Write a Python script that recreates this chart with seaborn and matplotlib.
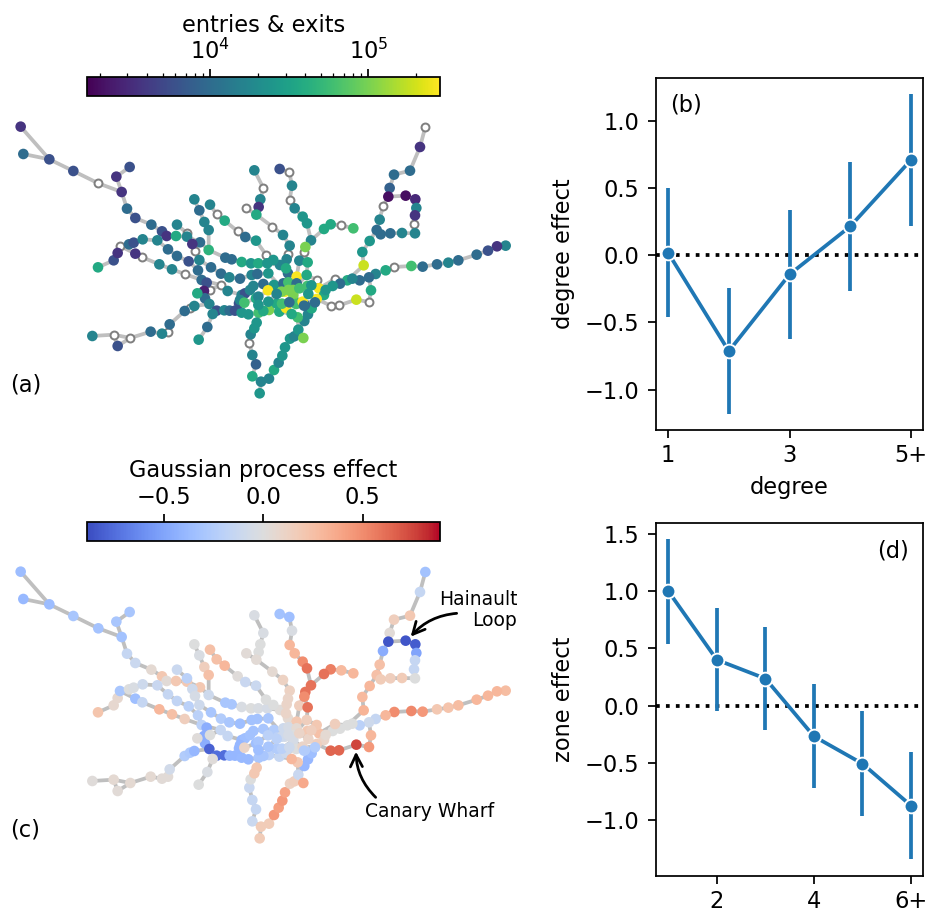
import numpy as np
import pandas as pd
import matplotlib
matplotlib.use("Agg")
import matplotlib.pyplot as plt
from matplotlib.colors import LogNorm, Normalize
import seaborn as sns

N = np.nan

# station map coordinates, one row per branch of the network
branch_x = [
    [62, 148],
    [70, 148, 220, 295, 365, 381, 406, 454, 486, 500, 528, 561, 600, 626, 676, 695, 725, 753, 775, 802, 840, 864, 890],
    [389, 349, 365],
    [583, 598, 613, 626, 626],
    [531, 561, 577, 585, 598, 633, 663, 688, 720, 755, 772, 805, 855],
    [630, 650, 674, 713, 736, 768, 798, 802],
    [294, 341, 353, 360, 387, 401, 428, 472, 504, 531, 566, 594, 605, 620, 612, 615, 628, 650],
    [360, 406, 427, 478, 516, 554, 605, 662, 683, 725],
    [277, 341, 391, 452, 486, 504, 509, 554, 570, 583, 628],
    [341, 353, 391],
    [596, 622, 638, 650, 673, 689, 705, 725, 745, 776, 807, 838, 858, 890],
    [592, 630, 662],
    [717, 725, 735, 750, 760, 790, 822, 850, 865, 890],
    [720, 733, 768, 775, 804, 832, 855, 880, 922, 957, 972],
    [757, 768, 757, 748, 752, 763, 770, 776],
    [757, 783, 779],
    [783, 807, 822, 836, 847, 855, 870, 883, 895, 913, 924, 935, 915, 880],
    [910, 883],
    [895, 893, 875, 838],
    [839, 868, 876, 869, 884, 908, 921, 933, 916, 898, 890, 880],
    [1060, 1024, 992, 972, 933],
    [916, 913, 923, 920, 880],
    [763, 790, 781, 776, 769, 817, 849, 869, 864, 860, 858, 864, 880],
    [739, 769],
    [1276, 1260, 1230, 1182, 1169, 1165, 1149, 1139, 1130, 1109, 1087, 1091, 1042, 1020, 998, 977, 957],
    [1165, 1217, 1246, 1249, 1245, 1242, 1245, 1206, 1171, 1142, 1130],
    [1517, 1491, 1464, 1430, 1375, 1345, 1311, 1268, 1234, 1183, 1157, 1127, 1107, 1079, 1057, 1042],
    [1107, 1113, 1107, 1069, 1017, 992, 950, 915],
    [1042, 1005, 957],
    [950, 920],
    [820, 840],
    [790, 830, 846, 880, 888, 908, 945, 972],
    [845, 865, 880, 898, 925, 934],
    [775, 805, 830],
    [868, 912],
]
branch_y = [
    [80, 178],
    [162, 178, 213, 250, 276, 326, 354, 374, 394, 408, 408, 410, 427, 450, 473, 478, 486, 490, 490, 490, 495, 520, 530],
    [201, 230, 276],
    [298, 331, 366, 390, 450],
    [374, 400, 432, 453, 480, 502, 521, 532, 536, 525, 522, 520, 575],
    [314, 343, 362, 394, 411, 422, 464, 490],
    [502, 481, 459, 438, 433, 428, 418, 421, 448, 468, 484, 511, 540, 548, 573, 595, 612, 632],
    [438, 461, 472, 493, 508, 522, 540, 555, 573, 585],
    [708, 704, 714, 695, 701, 695, 673, 633, 623, 618, 612],
    [704, 738, 714],
    [719, 681, 642, 632, 631, 632, 632, 638, 643, 638, 630, 635, 624, 610],
    [580, 570, 555],
    [610, 585, 580, 570, 558, 552, 555, 550, 547, 550],
    [600, 608, 595, 590, 571, 577, 575, 570, 558, 565, 585],
    [829, 793, 765, 728, 703, 685, 668, 638],
    [829, 845, 880],
    [845, 836, 810, 788, 767, 742, 716, 709, 689, 663, 643, 625, 615, 585],
    [714, 709],
    [689, 652, 642, 635],
    [207, 216, 257, 300, 325, 350, 370, 421, 441, 482, 530, 570],
    [385, 376, 373, 387, 421],
    [441, 455, 487, 525, 570],
    [211, 264, 298, 321, 344, 380, 405, 437, 461, 478, 505, 520, 570],
    [325, 344],
    [81, 141, 212, 224, 264, 290, 318, 359, 390, 423, 456, 496, 541, 551, 558, 570, 565],
    [290, 287, 298, 324, 346, 373, 400, 399, 400, 403, 390],
    [437, 439, 452, 464, 481, 488, 493, 500, 498, 501, 511, 522, 532, 541, 536, 541],
    [532, 571, 606, 599, 616, 617, 597, 615],
    [541, 537, 565],
    [540, 525],
    [480, 495],
    [633, 611, 611, 585, 612, 605, 607, 585],
    [575, 570, 570, 565, 582, 556],
    [615, 605, 582],
    [607, 617],
]
# entries & exits in thousands, N where the station has no count
branch_flow = [
    [3.6, 6],
    [10, 6, 6, N, 3.6, 10, 6, 10, 6, 3.6, 37, 17, 10, 45, 10, 10, 37, 25, 37, 25, 17, 10, 270],
    [6, 3.6, 3.6],
    [17, 10, 17, 17, 45],
    [17, N, 3.6, N, 17, 10, 10, 17, 10, 17, 10, 25, 270],
    [17, N, 37, N, 10, 25, N, 25],
    [37, 6, 3.6, N, 10, 6, 17, 17, 10, 10, 6, 10, 10, 6, 2.6, 10, 17, 6],
    [N, 3.6, N, 17, 17, N, 10, N, 17, 17],
    [17, N, N, 10, 17, N, 10, 10, N, 17, 17],
    [N, 6, N],
    [25, 10, 17, 6, 17, 10, 6, 25, 25, 60, 100, 37, 270, 37],
    [37, N, N],
    [6, 17, 6, 17, 17, 10, 25, 10, 60, 10],
    [17, 60, 37, 17, 270, N, 270, 100, 60, 270, 37],
    [37, 8, 17, N, 17, 25, 25, 60],
    [37, 17, 25],
    [17, 17, 37, 17, 25, 25, 25, 17, 25, 17, 17, 37, 10, 100],
    [100, 17],
    [25, 60, 37, 37],
    [6, N, 17, N, 17, 25, 25, 17, 100, 17, 270, 100],
    [60, N, 37, 37, 17],
    [100, N, 37, 37, 100],
    [17, N, 17, 3.6, 37, N, 17, 17, N, 17, 37, 10, 100],
    [N, 37],
    [N, 3.6, 10, 10, 8, 2, N, 17, 10, 25, 25, 190, 37, 10, 25, 25, 270],
    [2, 2, 3, 17, 3.6, N, 17, 17, 10, 10, 10],
    [17, 3.6, 6, 10, 10, 17, 10, 10, 60, N, 37, 17, 10, 10, 17, 37],
    [10, 37, N, 190, N, N, 270, 10],
    [37, N, 270],
    [N, 37],
    [25, 17],
    [37, 37, 60, 100, 60, 270, 10, 37],
    [100, 100, 100, 60, 25, 25],
    [25, 25, 17],
    [10, 10],
]
# Gaussian process effect of each station
branch_gp = [
    [-.36, -.36],
    [-.38, -.36, -.3, -.32, -.33, -.15, -.12, .05, .2, .03, .2, .2, .2, -.1, -.3, -.3, -.03, 0, -.03, -.05, .02, .05, .2],
    [-.3, -.3, -.33],
    [0, -.03, .15, .25, -.1],
    [-.12, -.2, -.1, -.05, -.1, -.3, -.25, -.3, -.35, -.33, -.33, -.3, -.05],
    [.25, .25, .3, .02, -.13, -.12, 0, -.05],
    [.22, .07, .07, -.3, 0, -.03, -.1, -.13, -.15, -.17, -.2, -.2, -.2, -.45, -.45, -.45, -.8, -.75],
    [-.3, -.35, -.15, .3, .25, .15, -.2, -.15, -.15, -.38],
    [.02, .05, .05, .05, .03, .03, -.08, -.25, -.28, -.4, -.8],
    [.05, .03, .05],
    [0, -.03, .02, -.75, -.75, -.4, -.4, -.38, -.38, -.3, -.2, -.15, -.1, 0],
    [.02, 0, -.15],
    [-.4, -.38, -.35, -.33, -.33, -.3, -.25, -.1, -.05, .05],
    [-.4, .1, -.35, -.3, -.2, -.2, -.05, 0, .2, .25, .1],
    [-.12, -.15, -.15, -.13, 0, .2, .2, -.3],
    [-.12, .17, .17],
    [.17, .17, .45, .42, .45, .4, .13, .15, -.13, -.4, -.4, -.35, -.25, -.05],
    [.37, .15],
    [-.13, .2, .3, -.15],
    [-.33, -.35, -.03, .3, .3, .5, .6, .6, .6, .15, .2, 0],
    [.3, .28, .55, .6, .6],
    [.6, .5, .6, .15, 0],
    [-.03, -.03, 0, 0, .04, .05, .12, .12, .1, .1, .1, .05, 0],
    [.03, .04],
    [-.33, -.15, .2, .15, .03, -.85, -.45, .25, .25, .3, .28, .32, 0, 0, 0, .05, .25],
    [-.85, -.85, -.82, -.5, -.15, -.15, 0, .17, .15, .17, .25],
    [.27, .3, .3, .3, .27, .23, .2, .45, .52, .5, .3, -.15, -.1, -.2, 0, 0],
    [-.1, .3, .45, .75, .65, .65, .15, -.25],
    [0, .15, .25],
    [.2, .15],
    [0, .02],
    [-.3, -.25, -.2, -.05, 0, .1, -.25, .1],
    [-.1, -.05, 0, .1, .1, .15],
    [-.35, -.3, -.2],
    [-.1, -.25],
]

degree_levels = [1, 2, 3, 4, 5]
degree_mean = [0.017, -0.714, -0.144, 0.213, 0.706]
degree_low = [-0.463, -1.18, -0.622, -0.265, 0.216]
degree_high = [0.5, -0.243, 0.332, 0.691, 1.197]
degree_ticks = [1, 3, 5]
degree_labels = ["1", "3", "5+"]

zone_levels = [1, 2, 3, 4, 5, 6]
zone_mean = [0.999, 0.40, 0.236, -0.268, -0.507, -0.873]
zone_low = [0.539, -0.047, -0.215, -0.722, -0.964, -1.342]
zone_high = [1.453, 0.85, 0.687, 0.189, -0.047, -0.405]
zone_ticks = [2, 4, 6]
zone_labels = ["2", "4", "6+"]

W, H, DPI = 927, 911, 180
plt.rcParams.update({
    "font.size": 9,
    "axes.linewidth": 0.7,
    "xtick.major.size": 3.2,
    "ytick.major.size": 3.2,
    "xtick.major.width": 0.7,
    "ytick.major.width": 0.7,
    "xtick.minor.size": 1.7,
    "xtick.minor.width": 0.5,
    "xtick.major.pad": 2.4,
})

rows = [pd.DataFrame({"x": a, "y": b, "flow": c, "gp": d})
        for a, b, c, d in zip(branch_x, branch_y, branch_flow, branch_gp, strict=True)]
stations = pd.concat(rows).drop_duplicates(subset=["x", "y"])

fig = plt.figure(figsize=(W / DPI, (H + 0.01) / DPI))


def px_axes(left, top, right, bottom):
    return fig.add_axes([left / W, 1 - bottom / H, (right - left) / W, (bottom - top) / H])


def draw_edges(ax):
    for a, b in zip(branch_x, branch_y):
        ax.plot(a, b, color="#bfbfbf", lw=1.5, zorder=1, solid_capstyle="round")
    ax.set_xlim(0, 1590)
    ax.set_ylim(930, 0)
    ax.axis("off")


def effect_panel(ax, levels, mean, low, high):
    ax.axhline(0, color="black", ls=":", lw=1.5, zorder=1)
    ax.vlines(levels, low, high, color="C0", lw=1.5, zorder=2)
    sns.lineplot(x=levels, y=mean, marker="o", markersize=5.5, color="C0", lw=1.5,
                 markeredgecolor="white", markeredgewidth=0.75, errorbar=None, ax=ax, zorder=3)


# (a) traffic map
flow_norm = LogNorm(vmin=1664, vmax=283900)
ax_a = px_axes(0, 100, 530, 410)
draw_edges(ax_a)
counted = stations.dropna(subset=["flow"]).assign(flow=lambda d: d["flow"] * 1000)
missing = stations[stations["flow"].isna()]
sns.scatterplot(data=missing, x="x", y="y", s=10, color="white", edgecolor="#808080",
                linewidth=0.8, zorder=2, ax=ax_a)
sns.scatterplot(data=counted, x="x", y="y", hue="flow", hue_norm=flow_norm, palette="viridis",
                s=18, linewidth=0, legend=False, zorder=3, ax=ax_a)
ax_a.text(31, 855, "(a)", va="center")

cax_a = px_axes(87, 77.5, 440, 96)
cb_a = fig.colorbar(plt.cm.ScalarMappable(norm=flow_norm, cmap="viridis"), cax=cax_a,
                    orientation="horizontal", ticklocation="top")
cb_a.set_label("entries & exits", labelpad=2.5)
cb_a.outline.set_linewidth(0.7)

# (c) Gaussian process map
gp_norm = Normalize(vmin=-0.885, vmax=0.888)
ax_c = px_axes(0, 545, 530, 855)
draw_edges(ax_c)
sns.scatterplot(data=stations, x="x", y="y", hue="gp", hue_norm=gp_norm, palette="coolwarm",
                s=18, linewidth=0, legend=False, zorder=3, ax=ax_c)
ax_c.text(31, 855, "(c)", va="center")
ax_c.text(1552, 195, "Hainault\nLoop", ha="right", va="center", fontsize=7.5, linespacing=1.15)
ax_c.annotate("", xy=(1232, 275), xytext=(1370, 205),
              arrowprops=dict(arrowstyle="->", color="black", lw=1.1, shrinkA=0, shrinkB=0,
                              mutation_scale=12, connectionstyle="arc3,rad=0.2"))
ax_c.text(1290, 798, "Canary Wharf", ha="center", va="center", fontsize=7.5)
ax_c.annotate("", xy=(1068, 620), xytext=(1127, 757),
              arrowprops=dict(arrowstyle="->", color="black", lw=1.1, shrinkA=0, shrinkB=0,
                              mutation_scale=12, connectionstyle="arc3,rad=-0.2"))

cax_c = px_axes(87, 522.5, 440, 541)
cb_c = fig.colorbar(plt.cm.ScalarMappable(norm=gp_norm, cmap="coolwarm"), cax=cax_c,
                    orientation="horizontal", ticklocation="top", ticks=[-0.5, 0, 0.5])
cb_c.set_label("Gaussian process effect", labelpad=3.5)
cb_c.outline.set_linewidth(0.7)

# (b) degree effect
ax_b = px_axes(656, 78, 923, 430)
effect_panel(ax_b, degree_levels, degree_mean, degree_low, degree_high)
ax_b.set_xlim(0.8, 5.2)
ax_b.set_ylim(-1.30, 1.316)
ax_b.set_xticks(degree_ticks, degree_labels)
ax_b.set_yticks([-1, -0.5, 0, 0.5, 1])
ax_b.set_xlabel("degree", labelpad=3.4)
ax_b.set_ylabel("degree effect")
ax_b.text(0.111, 0.923, "(b)", transform=ax_b.transAxes, ha="center", va="center")

# (d) zone effect
ax_d = px_axes(656, 523.3, 923, 875.7)
effect_panel(ax_d, zone_levels, zone_mean, zone_low, zone_high)
ax_d.set_xlim(0.746, 6.248)
ax_d.set_ylim(-1.485, 1.592)
ax_d.set_xticks(zone_ticks, zone_labels)
ax_d.set_yticks([-1, -0.5, 0, 0.5, 1, 1.5])
ax_d.set_ylabel("zone effect")
ax_d.text(0.889, 0.922, "(d)", transform=ax_d.transAxes, ha="center", va="center")

fig.savefig("out.png", dpi=DPI)
